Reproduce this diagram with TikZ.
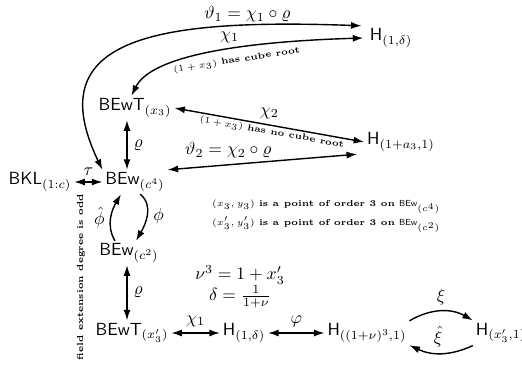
\documentclass[tikz,border=0pt]{standalone}
\usepackage{amsmath}
\usepackage{tikz}
\usetikzlibrary{arrows.meta,positioning}

\tikzset{
  obj/.style={font=\sffamily,inner sep=1.5pt},
  biarrow/.style={thick,{Latex[length=6pt,width=4pt]}-{Latex[length=6pt,width=4pt]}},
  onearrow/.style={thick,-{Latex[length=6pt,width=4pt]}},
  note/.style={font=\tiny,inner sep=1pt},
  cond/.style={font=\tiny,inner sep=1pt,sloped},
}

\begin{document}
\begin{tikzpicture}[x=0.02cm,y=-0.02cm]
  \useasboundingbox (0,0) rectangle (522,369);

  % objects
  \node[obj] (bkl)   at (40,182)  {BKL$_{(1:c)}$};
  \node[obj] (bew4)  at (135,182) {BEw$_{(c^4)}$};
  \node[obj] (bewt)  at (135,108) {BEwT$_{(x_3)}$};
  \node[obj] (hone)  at (391,38)  {H$_{(1,\delta)}$};
  \node[obj] (ha)    at (401,142) {H$_{(1+a_3,1)}$};
  \node[obj] (bew2)  at (129,253) {BEw$_{(c^2)}$};
  \node[obj] (bewtp) at (132,333) {BEwT$_{(x'_3)}$};
  \node[obj] (hbot)  at (244,333) {H$_{(1,\delta)}$};
  \node[obj] (hnu)   at (367,333) {H$_{((1+\nu)^3,1)}$};
  \node[obj] (hx)    at (501,333) {H$_{(x'_3,1)}$};
  \coordinate (colx) at (127,0);

  % maps
  \draw[biarrow] (bkl) -- node[above]{$\tau$} (bew4);
  \draw[biarrow] (bewt.south -| colx) -- node[right]{$\varrho$} (bew4.north -| colx);
  \draw[biarrow] (bew4.north west) .. controls (40,40) and (150,18) ..
    node[above,inner sep=1.5pt,pos=0.8]{$\vartheta_1 = \chi_1 \circ \varrho$} ([xshift=-3pt]hone.north west);
  \draw[biarrow] ([xshift=-2pt]bewt.north) .. controls (150,58) and (230,42) ..
    node[above,pos=0.6]{$\chi_1$}
    node[cond,below=3pt,pos=0.62]{$(1+x_3)$ \textbf{has cube root}} ([xshift=-2pt]hone.west);
  \draw[biarrow] (bewt.east) --
    node[above,pos=0.5]{$\chi_2$}
    node[cond,below,pos=0.52]{$(1+x_3)$ \textbf{has no cube root}} (ha.west);
  \draw[biarrow] (bew4.north east) -- node[above,pos=0.32]{$\vartheta_2 = \chi_2 \circ \varrho$} ([xshift=-4pt]ha.south west);

  \draw[onearrow] ([xshift=3pt]bew4.south) to[out=-40,in=60] node[right]{$\phi$} ([xshift=4pt]bew2.north);
  \draw[onearrow] ([xshift=-8pt]bew2.north) to[out=120,in=-120] node[left]{$\hat{\phi}$} ([xshift=-8pt]bew4.south);
  \draw[biarrow] (bew2.south -| colx) -- node[right]{$\varrho$} (bewtp.north -| colx);

  \draw[biarrow] (bewtp) -- node[above]{$\chi_1$} (hbot);
  \draw[biarrow] (hbot) -- node[above]{$\varphi$} (hnu);
  \draw[onearrow] (hnu.north east) to[bend left=30] node[above]{$\xi$} (hx.north west);
  \draw[onearrow] (hx.south west) to[bend left=25] node[above,pos=0.55]{$\hat{\xi}$} (hnu.south east);

  % notes
  \node[note,anchor=west] (pt1) at (210,207) {$(x_3,y_3)$ \textbf{is a point of order 3 on} \textsf{BEw}$_{(c^4)}$};
  \node[note,anchor=west] (pt2) at (210,225) {$(x'_3,y'_3)$ \textbf{is a point of order 3 on} \textsf{BEw}$_{(c^2)}$};
  \node (nu)  at (240,275) {$\nu^3 = 1 + x'_3$};
  \node (del) at (240,297) {$\delta = \frac{1}{1+\nu}$};
  \node[rotate=90,font=\tiny\bfseries] (odd) at (81,277) {field extension degree is odd};
\end{tikzpicture}
\end{document}
